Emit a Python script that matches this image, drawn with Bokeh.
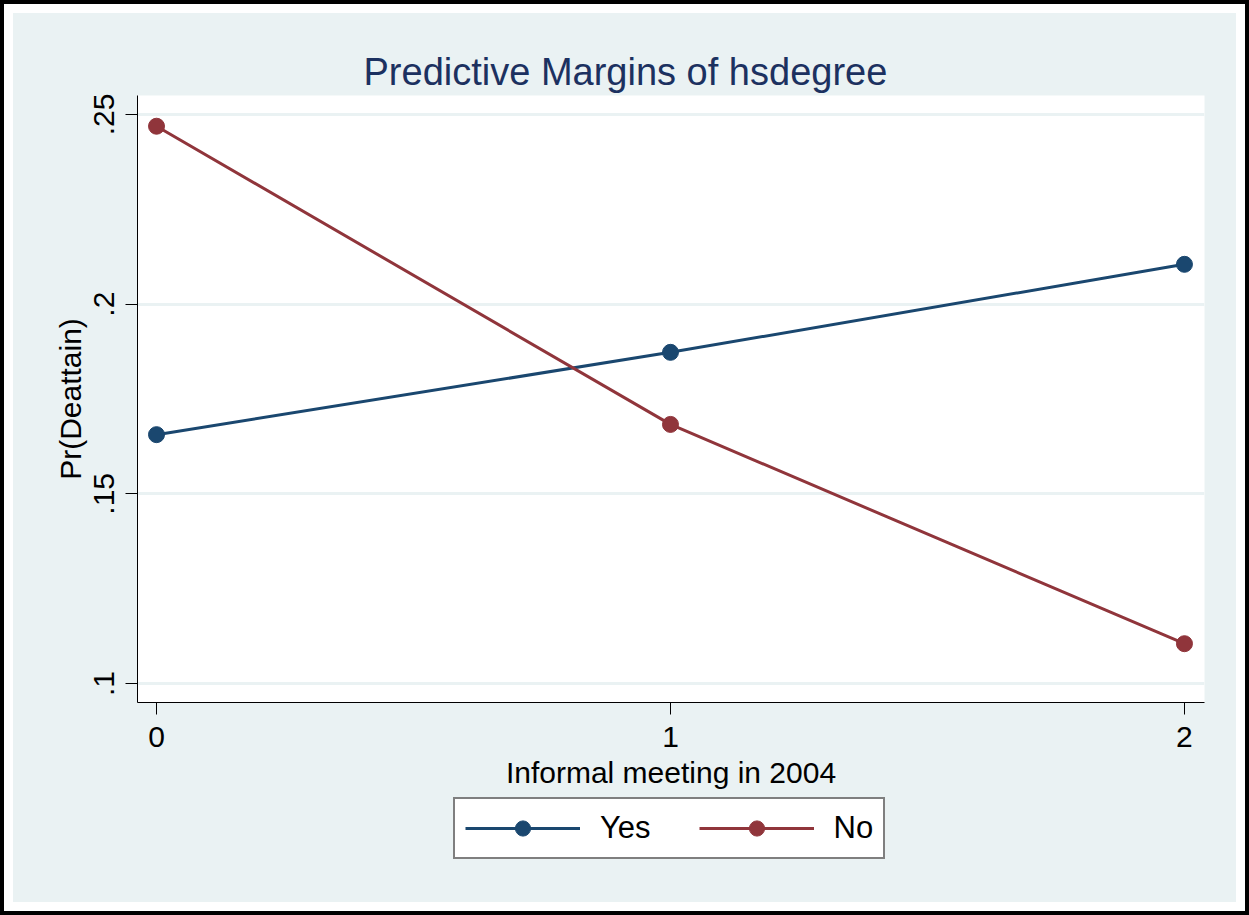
from bokeh.plotting import figure
from bokeh.layouts import column
from bokeh.models import (FixedTicker, Legend, LegendItem, Range1d, InlineStyleSheet)
from bokeh.embed import file_html
from bokeh.resources import INLINE

# ---- data ----
x_levels = [0, 1, 2]
yes_vals = [0.1656, 0.1873, 0.2105]
no_vals = [0.2469, 0.1683, 0.1105]
series_names = ["Yes", "No"]
y_ticks = [0.10, 0.15, 0.20, 0.25]
y_tick_labels = [".1", ".15", ".2", ".25"]
x_tick_labels = ["0", "1", "2"]
title_text = "Predictive Margins of hsdegree"
x_title = "Informal meeting in 2004"
y_title = "Pr(Deattain)"

NAVY = "#1a476f"
MAROON = "#90353b"
BG = "#eaf2f3"
FONT = "Liberation Sans"

p = figure(frame_width=1067, frame_height=607, output_backend="svg", toolbar_location=None,
           x_range=Range1d(-0.037, 2.039), y_range=Range1d(0.095, 0.255),
           min_border_left=137, min_border_right=45, min_border_top=95,
           min_border_bottom=95)
p.border_fill_color = BG
p.background_fill_color = "white"
p.outline_line_color = None

# title
p.title.text = title_text
p.title.align = "left"
p.title.offset = 226
p.title.standoff = 6
p.title.text_font = FONT
p.title.text_font_size = "38px"
p.title.text_font_style = "normal"
p.title.text_color = "#1c3160"

# axes
p.xaxis.ticker = FixedTicker(ticks=x_levels)
p.xaxis.major_label_overrides = {v: s for v, s in zip(x_levels, x_tick_labels)}
p.yaxis.ticker = FixedTicker(ticks=y_ticks)
p.yaxis.major_label_overrides = {v: s for v, s in zip(y_ticks, y_tick_labels)}
p.yaxis.major_label_orientation = "vertical"
for ax in (p.xaxis[0], p.yaxis[0]):
    ax.major_tick_out = 12
    ax.major_tick_in = 0
    ax.minor_tick_out = 0
    ax.minor_tick_in = 0
    ax.axis_line_color = "black"
    ax.major_tick_line_color = "black"
    ax.major_label_text_font = FONT
    ax.major_label_text_font_size = "30px"
    ax.major_label_text_color = "black"
    ax.axis_label_text_font = FONT
    ax.axis_label_text_font_size = "30px"
    ax.axis_label_text_font_style = "normal"
    ax.axis_label_text_color = "black"
p.xaxis.axis_label = x_title
p.yaxis.axis_label = y_title
p.xaxis.major_label_standoff = 12
p.xaxis.axis_label_standoff = 6
p.yaxis.major_label_standoff = 12
p.yaxis.axis_label_standoff = 4

p.xgrid.visible = False
p.ygrid.grid_line_color = BG
p.ygrid.grid_line_width = 3

# series
p.line(x_levels, yes_vals, line_color=NAVY, line_width=3)
p.scatter(x_levels, yes_vals, size=16, fill_color=NAVY, line_color=NAVY)
p.line(x_levels, no_vals, line_color=MAROON, line_width=3)
p.scatter(x_levels, no_vals, size=16, fill_color=MAROON, line_color=MAROON)

# legend strip (same series, drawn out of view; only the legend shows)
pl = figure(width=1249, height=118, output_backend="svg", toolbar_location=None,
            x_range=Range1d(10, 11), y_range=Range1d(10, 11),
            x_axis_type=None, y_axis_type=None,
            min_border_left=0, min_border_right=0, min_border_top=0, min_border_bottom=0)
pl.border_fill_color = BG
pl.background_fill_color = BG
pl.outline_line_color = None
pl.grid.visible = False
l_yes_l = pl.line(x_levels, yes_vals, line_color=NAVY, line_width=3)
l_yes_s = pl.scatter(x_levels, yes_vals, size=16, fill_color=NAVY, line_color=NAVY)
l_no_l = pl.line(x_levels, no_vals, line_color=MAROON, line_width=3)
l_no_s = pl.scatter(x_levels, no_vals, size=16, fill_color=MAROON, line_color=MAROON)

legend = Legend(items=[LegendItem(label=series_names[0], renderers=[l_yes_l, l_yes_s]),
                       LegendItem(label=series_names[1], renderers=[l_no_l, l_no_s])],
                orientation="horizontal", location=(316, 56))
legend.label_text_font = FONT
legend.label_text_font_size = "31px"
legend.label_text_color = "black"
legend.glyph_width = 115
legend.glyph_height = 38
legend.label_height = 30
legend.label_standoff = 20
legend.spacing = 48
legend.padding = 10
legend.margin = 0
legend.border_line_color = "black"
legend.border_line_width = 2
legend.background_fill_color = "white"
legend.background_fill_alpha = 1
pl.add_layout(legend)

layout = column(p, pl, spacing=0, styles={"background-color": BG})
layout.stylesheets = [InlineStyleSheet(css="""
:host { position: relative; }
:host::after {
  content: ''; position: absolute; left: 0; top: 0; right: 0; bottom: 0;
  border: 4px solid black; box-shadow: inset 0 0 0 9px white;
  pointer-events: none; z-index: 100;
}
""")]

open("out.html", "w").write(file_html(layout, INLINE))
